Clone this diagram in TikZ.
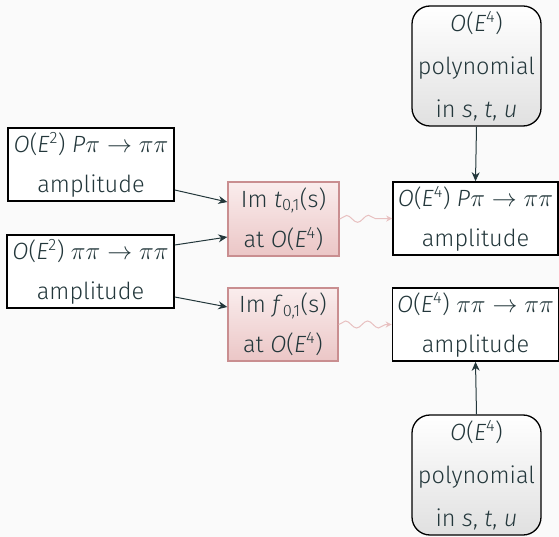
\documentclass[tikz,border=0pt]{standalone}
\usepackage{fontspec}
\setmainfont{Fira Sans}[UprightFont={* Light},ItalicFont={* Light Italic}]
\usetikzlibrary{arrows.meta,decorations.pathmorphing,shapes.misc}
\definecolor{fg}{HTML}{23373B}
\definecolor{bgc}{HTML}{FAFAFA}
\definecolor{pinkline}{HTML}{C98E90}
\definecolor{wave}{HTML}{E8C0C0}
\definecolor{pinktop}{HTML}{FAEDED}
\definecolor{pinkbot}{HTML}{EBC6C6}
\newcommand\mi[1]{\textit{#1}}
\newcommand\sq[1]{\textsuperscript{#1}}
\tikzset{
  txt/.style={text=fg,font=\fontsize{23.5}{40}\selectfont,align=center,inner sep=0pt},
  plainbox/.style={txt,draw=black,line width=1.6pt,fill=white,minimum width=166pt,minimum height=73pt},
  pinkbox/.style={txt,draw=pinkline,line width=1.4pt,top color=pinktop,bottom color=pinkbot,minimum width=111pt,minimum height=74pt},
  polybox/.style={txt,font=\fontsize{23.5}{43}\selectfont,draw=black,line width=1.3pt,rounded corners=18pt,top color=white,bottom color=black!12,minimum width=129pt,minimum height=120pt},
  conn/.style={draw=fg,line width=1pt,-{Stealth[length=9pt,width=8pt]}},
  wavy/.style={draw=wave,line width=1pt,decorate,decoration={snake,amplitude=3.5pt,segment length=22pt,post length=6pt},-{Stealth[length=6pt,width=6pt]}}
}
\begin{document}
\begin{tikzpicture}[x=1pt,y=-1pt]
\fill[bgc] (0,0) rectangle (559,537);
\useasboundingbox (0,0) rectangle (559,537);
\node[plainbox] (b1) at (91,164.5) {\mi{O}(\mi{E}\sq{2}) \mi{P}$\pi\rightarrow\pi\pi$\\amplitude};
\node[plainbox,minimum width=167pt] (b2) at (90.5,271.5) {\mi{O}(\mi{E}\sq{2}) $\pi\pi\rightarrow\pi\pi$\\amplitude};
\node[pinkbox] (p1) at (283.5,219) {Im \mi{t}\textsubscript{0,1}(s)\\at \mi{O}(\mi{E}\sq{4})};
\node[pinkbox,minimum width=110pt,minimum height=73pt] (p2) at (283,324.5) {Im \mi{f}\textsubscript{0,1}(s)\\at \mi{O}(\mi{E}\sq{4})};
\node[plainbox,minimum width=165pt] (r1) at (475.5,218.5) {\mi{O}(\mi{E}\sq{4}) \mi{P}$\pi\rightarrow\pi\pi$\\amplitude};
\node[plainbox,minimum width=166pt] (r2) at (475.5,324.5) {\mi{O}(\mi{E}\sq{4}) $\pi\pi\rightarrow\pi\pi$\\amplitude};
\node[polybox] (t) at (476.5,66) {\mi{O}(\mi{E}\sq{4})\\polynomial\\in \mi{s}, \mi{t}, \mi{u}};
\node[polybox] (u) at (476.5,475) {\mi{O}(\mi{E}\sq{4})\\polynomial\\in \mi{s}, \mi{t}, \mi{u}};
\draw[conn] ([yshift=-25.5pt]b1.east) -- ([yshift=17pt]p1.west);
\draw[conn] ([yshift=26.5pt]b2.east) -- ([yshift=-18pt]p1.west);
\draw[conn] ([yshift=-25.5pt]b2.east) -- ([yshift=17.5pt]p2.west);
\draw[wavy] (p1.east) -- (r1.west);
\draw[wavy] (p2.east) -- (r2.west);
\draw[conn] (t.south) -- (r1.north);
\draw[conn] (u.north) -- (r2.south);
\end{tikzpicture}
\end{document}
